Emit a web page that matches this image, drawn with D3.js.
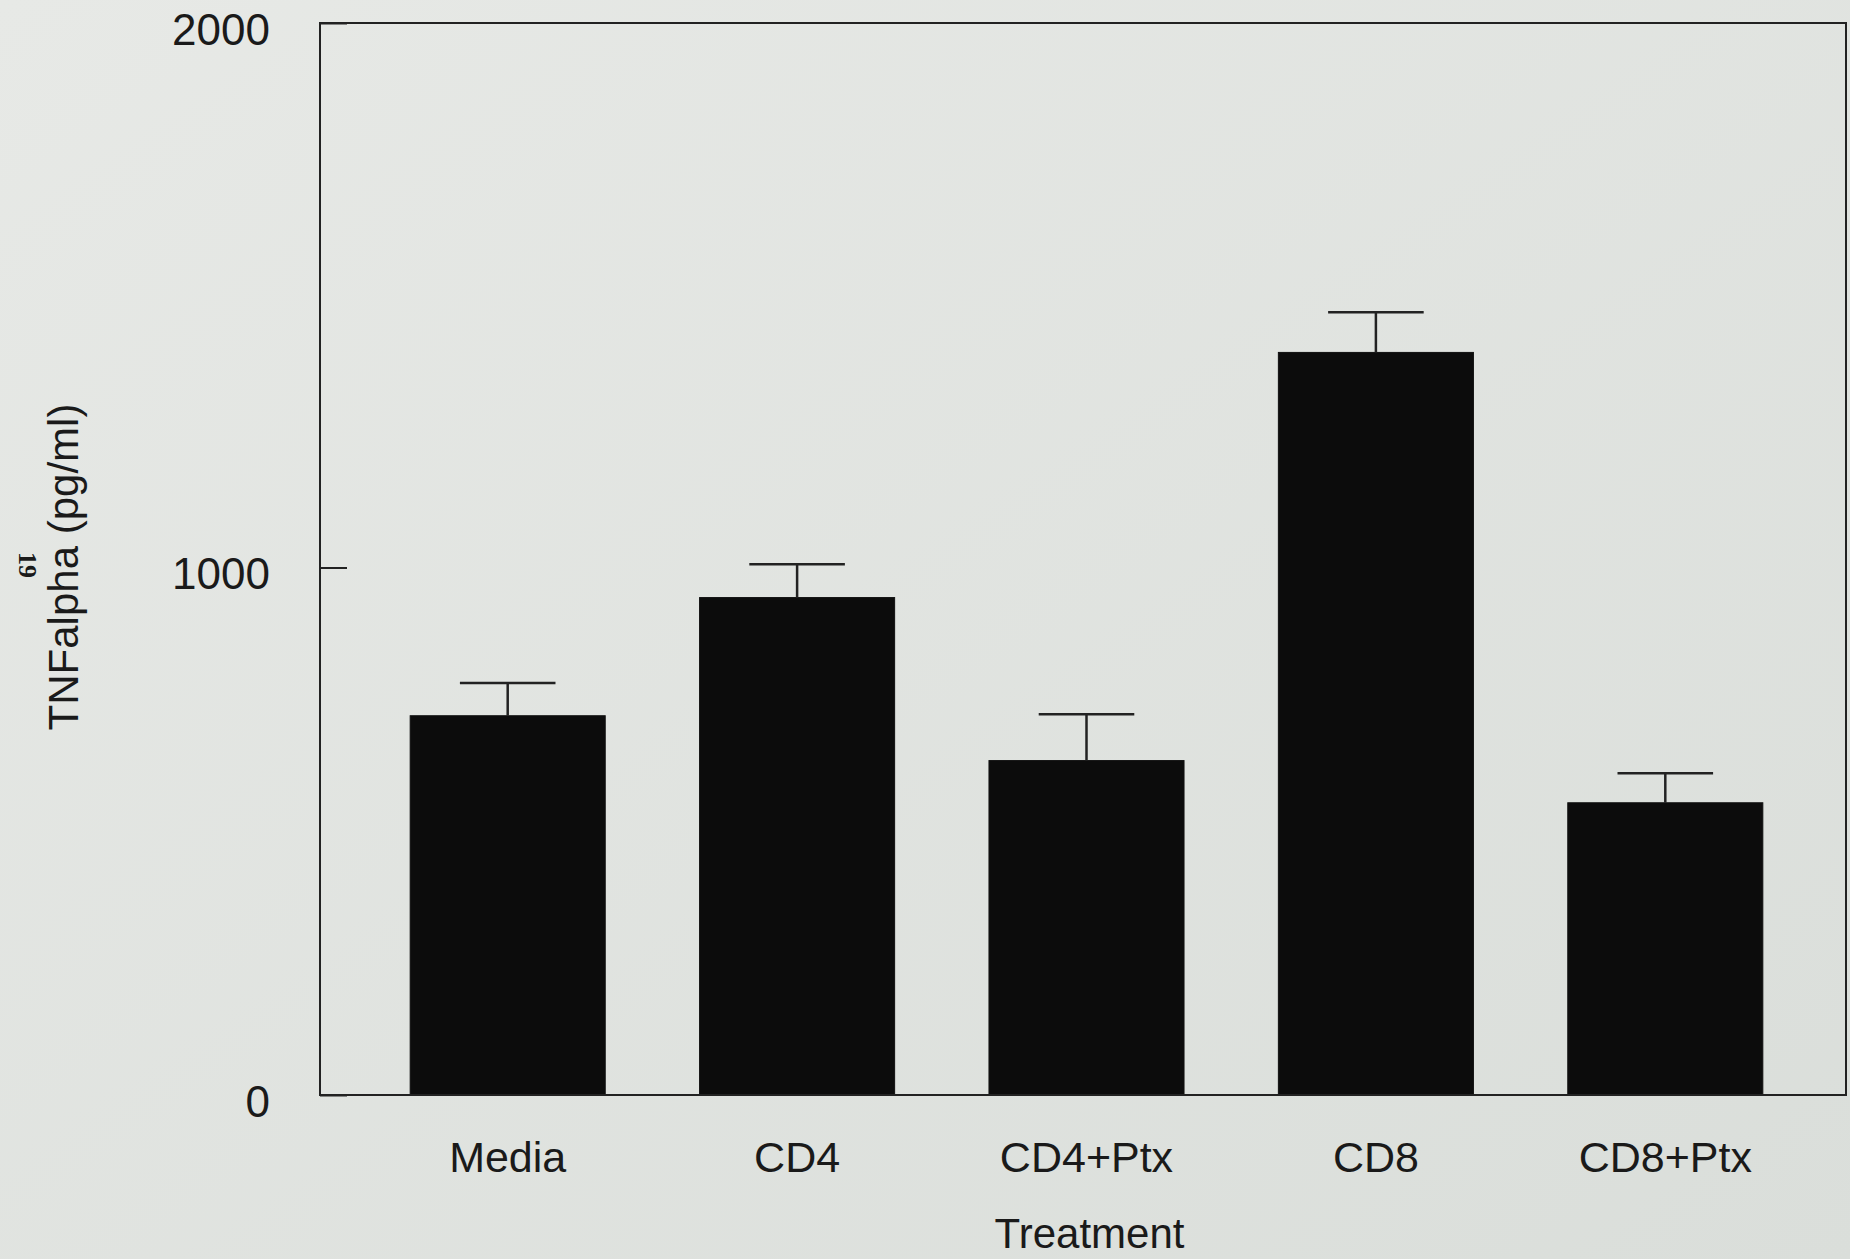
<!DOCTYPE html>
<html>
<head>
<meta charset="utf-8">
<script src="https://cdn.jsdelivr.net/npm/d3@7"></script>
<style>
  html, body { margin: 0; padding: 0; background: #e2e4e1; }
  svg { display: block; }
  text { font-family: "Liberation Sans", Arial, sans-serif; fill: #1a1a1a; }
</style>
</head>
<body>
<div id="chart"></div>
<script>
// Data
const treatments = ["Media", "CD4", "CD4+Ptx", "CD8", "CD8+Ptx"];
const tnfMeans = [719, 943, 634, 1395, 554];
const tnfErrors = [62, 63, 88, 74, 56];
const yTicks = [0, 1000, 2000];

const W = 1850, H = 1259;

let svg = d3.select("#chart")
  .append("svg")
  .attr("width", W)
  .attr("height", H);

// paper background, a bit darker to the right like the scan
let grad = svg.append("defs").append("linearGradient")
  .attr("id", "paper")
  .attr("x1", "0").attr("y1", "0").attr("x2", "1").attr("y2", "1");
grad.append("stop").attr("offset", "0").attr("stop-color", "#e7e9e6");
grad.append("stop").attr("offset", "1").attr("stop-color", "#dadeda");
svg.append("rect")
  .attr("width", W).attr("height", H)
  .attr("fill", "url(#paper)");

// plot frame
const plotLeft = 320, plotRight = 1846, plotTop = 23, plotBottom = 1095;

// the scanned page is slightly stretched at the top, so the scale is piecewise
let y = d3.scaleLinear()
  .domain([0, 1000, 2000])
  .range([plotBottom, 567.5, plotTop]);

let x = d3.scaleBand()
  .domain(treatments)
  .range([363, 1810])
  .paddingInner(0.326)
  .paddingOuter(0.163);

// Y axis, ticks point inward
let yAxis = svg.append("g")
  .attr("transform", "translate(" + plotLeft + ",0)")
  .call(d3.axisLeft(y).tickValues(yTicks).tickSize(-27).tickPadding(50).tickFormat(d3.format("d")));
yAxis.select(".domain").remove();
yAxis.selectAll("line").attr("stroke", "#222").attr("stroke-width", 2);
yAxis.selectAll("text")
  .attr("font-size", 44)
  .attr("dy", "0.48em")
  .style("font-family", "'Liberation Sans', Arial, sans-serif")
  .attr("fill", "#1a1a1a");

// bars
svg.append("g")
  .selectAll("rect")
  .data(treatments)
  .enter()
  .append("rect")
  .attr("x", d => x(d))
  .attr("y", (d, i) => y(tnfMeans[i]))
  .attr("width", x.bandwidth())
  .attr("height", (d, i) => y(0) - y(tnfMeans[i]))
  .attr("fill", "#0c0c0c")
  .attr("stroke", "#111")
  .attr("stroke-width", 1);

// error bars (upper only)
let err = svg.append("g")
  .attr("stroke", "#222")
  .attr("stroke-width", 2.5);
treatments.forEach((d, i) => {
  let cx = x(d) + x.bandwidth() / 2;
  let half = x.bandwidth() * 0.245;
  err.append("line")
    .attr("x1", cx).attr("x2", cx)
    .attr("y1", y(tnfMeans[i])).attr("y2", y(tnfMeans[i] + tnfErrors[i]));
  err.append("line")
    .attr("x1", cx - half).attr("x2", cx + half)
    .attr("y1", y(tnfMeans[i] + tnfErrors[i])).attr("y2", y(tnfMeans[i] + tnfErrors[i]));
});

// frame drawn on top
svg.append("rect")
  .attr("x", plotLeft).attr("y", plotTop)
  .attr("width", plotRight - plotLeft).attr("height", plotBottom - plotTop)
  .attr("fill", "none")
  .attr("stroke", "#222")
  .attr("stroke-width", 2);

// category labels
svg.append("g")
  .selectAll("text")
  .data(treatments)
  .enter()
  .append("text")
  .attr("x", d => x(d) + x.bandwidth() / 2)
  .attr("y", 1172)
  .attr("text-anchor", "middle")
  .attr("font-size", 43)
  .text(d => d);

// axis titles
svg.append("text")
  .attr("x", x("CD4+Ptx") + x.bandwidth() / 2 + 3)
  .attr("y", 1248)
  .attr("text-anchor", "middle")
  .attr("font-size", 42)
  .text("Treatment");

svg.append("text")
  .attr("transform", "translate(78,567) rotate(-90)")
  .attr("text-anchor", "middle")
  .attr("font-size", 42)
  .text("TNFalpha (pg/ml)");

// page number from the scanned thesis page
svg.append("text")
  .attr("transform", "translate(19,565) rotate(90)")
  .attr("text-anchor", "middle")
  .attr("font-size", 26)
  .attr("font-weight", "bold")
  .style("font-family", "'Liberation Serif', serif")
  .attr("fill", "#333")
  .text("19");
</script>
</body>
</html>
